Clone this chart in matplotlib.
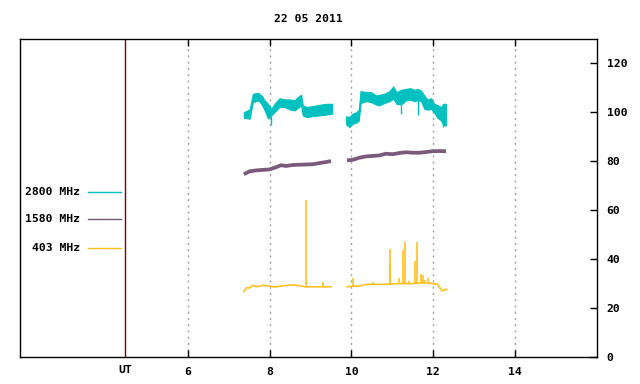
#!/usr/bin/env python3
"""Radio flux at 2800, 1580 and 403 MHz on 22 05 2011 (gnuplot-style chart)."""

import numpy as np
import matplotlib
matplotlib.use('Agg')
import matplotlib.pyplot as plt

# --- 2800 MHz: upper / lower envelope of the noisy trace ---
c1_t = [7.37, 7.51, 7.59, 7.72, 7.80, 7.88, 7.96, 8.04, 8.12, 8.24, 8.37,
        8.49, 8.61, 8.69, 8.77, 8.81, 8.90, 9.06, 9.22, 9.38, 9.53]
c1_hi = [100.1, 101.2, 107.6, 108.0, 106.9, 104.9, 103.5, 101.5, 103.5, 105.8, 105.3,
         105.3, 104.9, 106.3, 107.2, 102.9, 102.2, 102.6, 103.1, 103.5, 103.5]
c1_lo = [97.8, 97.4, 104.2, 104.9, 103.5, 100.8, 97.5, 98.8, 100.1, 102.2, 102.2,
         101.2, 100.8, 101.8, 102.9, 98.8, 98.1, 98.5, 98.8, 99.1, 99.5]
c2_t = [9.87, 9.95, 10.03, 10.12, 10.18, 10.22, 10.36, 10.48, 10.60, 10.68, 10.80,
        10.93, 11.02, 11.10, 11.21, 11.33, 11.43, 11.54, 11.62, 11.70, 11.78, 11.86,
        11.94, 12.02, 12.10, 12.19, 12.24, 12.31]
c2_hi = [98.4, 98.1, 99.5, 100.1, 101.1, 108.7, 108.3, 108.3, 106.9, 107.2, 107.6,
         108.7, 110.6, 108.3, 109.2, 109.6, 109.9, 109.2, 109.6, 108.9, 106.9, 105.2,
         105.8, 103.5, 103.0, 102.2, 103.5, 103.5]
c2_lo = [95.1, 94.0, 95.4, 95.8, 96.7, 103.8, 104.6, 104.2, 103.2, 102.9, 103.8,
         104.6, 105.6, 103.5, 103.2, 104.9, 105.2, 104.6, 105.0, 104.6, 101.5, 101.1,
         101.5, 99.9, 97.8, 96.7, 94.7, 94.7]
c_dips_t = [8.03, 10.22, 11.21, 11.62, 12.24]
c_dips_v = [95.0, 100.5, 99.5, 98.8, 94.0]

# --- 1580 MHz ---
p1_t = [7.37, 7.51, 7.68, 7.84, 8.00, 8.16, 8.28, 8.40, 8.57, 8.73, 8.90, 9.06,
        9.22, 9.38, 9.50]
p1_v = [74.7, 75.9, 76.3, 76.5, 76.7, 77.6, 78.4, 78.1, 78.5, 78.6, 78.7, 78.8,
        79.3, 79.7, 80.1]
p2_t = [9.89, 10.03, 10.20, 10.36, 10.52, 10.68, 10.84, 11.01, 11.17, 11.33,
        11.50, 11.66, 11.82, 11.98, 12.15, 12.31]
p2_v = [80.4, 80.6, 81.5, 82.0, 82.2, 82.4, 83.1, 82.9, 83.4, 83.7, 83.5, 83.5,
        83.8, 84.1, 84.2, 84.1]

# --- 403 MHz baseline and spikes ---
y1_t = [7.37, 7.45, 7.51, 7.59, 7.68, 7.84, 8.00, 8.12, 8.28, 8.49, 8.69, 8.85,
        9.06, 9.30, 9.50]
y1_v = [26.9, 28.4, 28.2, 29.3, 28.7, 29.3, 29.0, 28.6, 29.0, 29.4, 29.3, 28.7,
        28.7, 28.7, 28.7]
y2_t = [9.89, 10.03, 10.20, 10.36, 10.60, 10.84, 11.15, 11.45, 11.71, 11.86,
        11.98, 12.10, 12.19, 12.23, 12.29, 12.33]
y2_v = [28.7, 29.0, 29.0, 29.7, 29.7, 29.7, 30.0, 30.0, 30.3, 30.3, 30.0, 29.8,
        27.6, 27.0, 27.6, 27.6]
spike_t = [8.88, 9.30, 10.03, 10.52, 10.93, 10.95, 11.15, 11.25, 11.32, 11.41,
           11.55, 11.59, 11.71, 11.76, 11.80, 11.86]
spike_v = [64.1, 30.5, 32.5, 30.5, 37.6, 44.1, 32.5, 43.7, 47.0, 31.1, 39.2,
           47.0, 33.9, 33.5, 31.4, 32.3]

x_ticks = [6, 8, 10, 12, 14]
y_ticks = [0, 20, 40, 60, 80, 100, 120]
ut_pos = 4.46
title = '22 05 2011'

CYAN = '#00c0c0'
PURPLE = '#7a5a7a'
GOLD = '#ffc020'
FONT = {'family': 'DejaVu Sans Mono', 'weight': 'bold', 'size': 8.2}

fig = plt.figure(figsize=(6.4, 3.84), dpi=100)
ax = fig.add_axes([20 / 640, 27 / 384, 577 / 640, 318 / 384])

# vertical dotted grid
for x in x_ticks:
    ax.axvline(x, color='#a0a0a0', lw=1, ls=(0, (1.5, 3)), zorder=0)
ax.axvline(ut_pos, color='#800000', lw=1)

# 2800 MHz
for t, hi, lo in [(c1_t, c1_hi, c1_lo), (c2_t, c2_hi, c2_lo)]:
    ax.fill_between(t, lo, hi, color=CYAN, lw=0.8, edgecolor=CYAN)
lo_at = np.interp(c_dips_t, c1_t + c2_t, c1_lo + c2_lo)
ax.vlines(c_dips_t, c_dips_v, lo_at, color=CYAN, lw=1)

# 1580 MHz
ax.plot(p1_t, p1_v, color=PURPLE, lw=2.7, solid_capstyle='butt')
ax.plot(p2_t, p2_v, color=PURPLE, lw=2.7, solid_capstyle='butt')

# 403 MHz
ax.plot(y1_t, y1_v, color=GOLD, lw=1.2)
ax.plot(y2_t, y2_v, color=GOLD, lw=1.2)
base = np.interp(spike_t, y1_t + y2_t, y1_v + y2_v)
ax.vlines(spike_t, base, spike_v, color=GOLD, lw=1.2)

ax.set_xlim(1.9, 16)
ax.set_ylim(0, 130)
ax.set_xticks(x_ticks)
ax.set_xticklabels([str(x) for x in x_ticks], fontdict=FONT)
ax.set_yticks(y_ticks)
ax.set_yticklabels([str(y) for y in y_ticks], fontdict=FONT)
ax.yaxis.tick_right()
ax.tick_params(axis='y', direction='in', length=5, width=1, pad=7, right=True, left=False)
ax.tick_params(axis='x', direction='in', length=5, width=1, pad=7.5, top=True, bottom=True)
for s in ax.spines.values():
    s.set_linewidth(1)

ax.text(ut_pos, -0.025, 'UT', transform=ax.get_xaxis_transform(),
        ha='center', va='top', fontdict=FONT)

# legend drawn by hand on the left
legend = [('2800 MHz', CYAN, 0.520), ('1580 MHz', PURPLE, 0.433), ('403 MHz', GOLD, 0.342)]
for label, col, yy in legend:
    ax.text(0.104, yy, label, transform=ax.transAxes, ha='right', va='center', fontdict=FONT)
    ax.plot([0.118, 0.175], [yy, yy], transform=ax.transAxes, color=col, lw=1)

fig.text(308.5 / 640, 1 - 19 / 384, title, ha='center', va='center', fontdict=FONT)

fig.savefig('out.png', dpi=100)
